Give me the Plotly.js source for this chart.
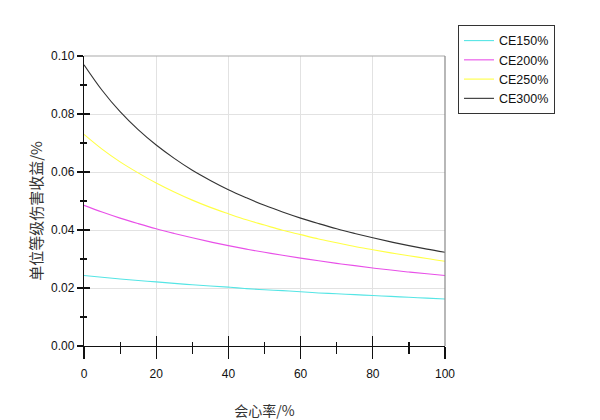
<!DOCTYPE html>
<html>
<head>
<meta charset="utf-8">
<script src="https://cdn.plot.ly/plotly-3.0.1.min.js"></script>
<style>html,body{margin:0;padding:0;background:#fff;}#chart{width:600px;height:420px;}</style>
</head>
<body>
<div id="chart"></div>
<script>
const critRate = [0,5,10,15,20,25,30,35,40,45,50,55,60,65,70,75,80,85,90,95,100];
const ce150 = [0.0243,0.0237,0.0231,0.0226,0.0221,0.0216,0.0211,0.0207,0.0203,0.0198,0.0194,0.0191,0.0187,0.0183,0.0180,0.0177,0.0174,0.0171,0.0168,0.0165,0.0162];
const ce200 = [0.0485,0.0462,0.0441,0.0422,0.0404,0.0388,0.0373,0.0359,0.0346,0.0334,0.0323,0.0313,0.0303,0.0294,0.0285,0.0277,0.0269,0.0262,0.0255,0.0249,0.0243];
const ce250 = [0.0730,0.0679,0.0635,0.0597,0.0562,0.0531,0.0503,0.0478,0.0456,0.0435,0.0417,0.0399,0.0384,0.0369,0.0356,0.0343,0.0332,0.0321,0.0311,0.0302,0.0292];
const ce300 = [0.0970,0.0882,0.0808,0.0746,0.0693,0.0647,0.0606,0.0571,0.0539,0.0511,0.0485,0.0462,0.0441,0.0422,0.0404,0.0388,0.0373,0.0359,0.0346,0.0334,0.0323];
const seriesNames = ['CE150%','CE200%','CE250%','CE300%'];
const xTickVals = [0,20,40,60,80,100];
const yTickVals = [0,0.02,0.04,0.06,0.08,0.10];
const yTickText = ['0.00','0.02','0.04','0.06','0.08','0.10'];
const xTitle = '会心率/%';
const yTitle = '单位等级伤害收益/%';

const colors = ['#55e5e5','#e850e8','#ffff44','#333333'];
const ys = [ce150, ce200, ce250, ce300];
const traces = ys.map((y,i)=>({
  x: critRate, y: y, name: seriesNames[i], type:'scatter', mode:'lines',
  line:{color:colors[i], width:1.1, shape:'spline'}
}));
// empty helper trace so the overlay axes (inner halves of the crossing ticks) are drawn
traces.push({x:[], y:[], xaxis:'x2', yaxis:'y2', type:'scatter', mode:'lines', showlegend:false, hoverinfo:'skip'});

const lab = 'Liberation Sans, Arial, sans-serif';
const cjk = 'Noto Sans CJK SC, sans-serif';
const layout = {
  width:600, height:420,
  margin:{l:84, r:155, t:56, b:74},
  paper_bgcolor:'#fff', plot_bgcolor:'#fff',
  font:{family:lab, size:12, color:'#111'},
  showlegend:true,
  legend:{x:1.036, y:1.107, xanchor:'left', yanchor:'top',
    bordercolor:'#333', borderwidth:1, bgcolor:'#fff',
    font:{family:lab, size:12.5, color:'#111'},
    tracegroupgap:0, itemwidth:30},
  xaxis:{range:[0,100], tickvals:xTickVals, ticktext:xTickVals.map(String),
    showgrid:true, gridcolor:'#e2e2e2', gridwidth:1, zeroline:false,
    showline:true, linecolor:'#111', linewidth:1.2,
    ticks:'outside', ticklen:12, tickwidth:1.2, tickcolor:'#111', ticklabelstandoff:4,
    minor:{dtick:10, tick0:0, ticks:'outside', ticklen:7, tickwidth:1.2, tickcolor:'#111', showgrid:false},
    tickfont:{family:lab, size:12, color:'#111'},
    title:{text:xTitle, standoff:27, font:{family:cjk, size:14, color:'#333'}},
    fixedrange:true},
  yaxis:{range:[0,0.1], tickvals:yTickVals, ticktext:yTickText,
    showgrid:true, gridcolor:'#e2e2e2', gridwidth:1, zeroline:false,
    showline:true, linecolor:'#111', linewidth:1.2,
    ticks:'outside', ticklen:6, tickwidth:1.2, tickcolor:'#111',
    minor:{dtick:0.01, tick0:0, ticks:'outside', ticklen:3, tickwidth:1.2, tickcolor:'#111', showgrid:false},
    tickfont:{family:lab, size:12, color:'#111'},
    fixedrange:true},
  xaxis2:{range:[0,100], overlaying:'x', anchor:'y2', side:'bottom', tickvals:xTickVals,
    showticklabels:false, showgrid:false, zeroline:false, showline:false,
    ticks:'inside', ticklen:10, tickwidth:1.2, tickcolor:'#111',
    minor:{dtick:10, tick0:0, ticks:'inside', ticklen:4, tickwidth:1.2, tickcolor:'#111', showgrid:false},
    fixedrange:true},
  yaxis2:{range:[0,0.1], overlaying:'y', anchor:'x2', side:'left', tickvals:yTickVals,
    showticklabels:false, showgrid:false, zeroline:false, showline:false,
    ticks:'inside', ticklen:6, tickwidth:1.2, tickcolor:'#111',
    minor:{dtick:0.01, tick0:0, ticks:'inside', ticklen:3, tickwidth:1.2, tickcolor:'#111', showgrid:false},
    fixedrange:true},
  annotations:[
    {text:yTitle, xref:'paper', yref:'paper', x:0, y:0.466, xanchor:'center', yanchor:'middle',
     xshift:-48, textangle:-90, showarrow:false, font:{family:cjk, size:15, color:'#333'}}
  ],
  shapes:[
    {type:'line', xref:'paper', yref:'paper', x0:0, x1:1, y0:1, y1:1, line:{color:'#aaaaaa', width:1.2}},
    {type:'line', xref:'paper', yref:'paper', x0:1, x1:1, y0:0, y1:1, line:{color:'#888888', width:1.2}}
  ]
};
Plotly.newPlot('chart', traces, layout, {displayModeBar:false, staticPlot:true});
</script>
</body>
</html>
